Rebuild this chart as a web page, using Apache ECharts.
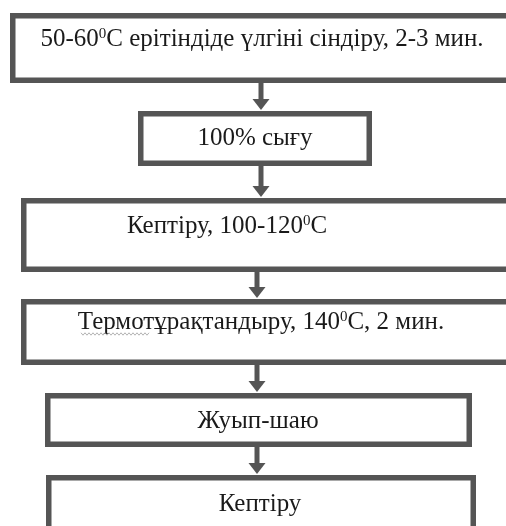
<!DOCTYPE html>
<html>
<head>
<meta charset="utf-8">
<script src="https://cdn.jsdelivr.net/npm/echarts@6/dist/echarts.min.js"></script>
<style>
html,body{margin:0;padding:0;background:#fff;}
#main{width:506px;height:526px;}
</style>
</head>
<body>
<div id="main"></div>
<script>
// Flowchart steps (text)
const steps = [
  '50-60⁰C ерітіндіде үлгіні сіндіру, 2-3 мин.',
  '100% сығу',
  'Кептіру, 100-120⁰C',
  'Термотұрақтандыру, 140⁰C, 2 мин.',
  'Жуып-шаю',
  'Кептіру'
];
// Box extents in the page's coordinate frame (x: 0..506, y: 0..526 downward)
const boxLeft   = [10, 138, 21, 21, 45, 46];
const boxRight  = [540, 372, 540, 540, 472, 476];
const boxTop    = [13, 111, 198, 299, 393, 475];
const boxBottom = [83, 166, 272, 365, 447, 545];
// Text anchor (centre) for each step
const textX = [262, 255, 227, 261, 258, 260];
const textY = [39, 138, 226, 322, 421, 504];
// Connector arrows: x position of each arrow (from step i to step i+1)
const arrowX = [261, 261, 257, 257, 257];

const BORDER = 5.5;
const LINE = '#555555';

const chart = echarts.init(document.getElementById('main'), null, {renderer: 'canvas'});

function toRich(s) {
  return s.replace(/⁰/g, '{s|0}');
}

const option = {
  backgroundColor: '#ffffff',
  animation: false,
  grid: {left: 0, right: 0, top: 0, bottom: 0},
  xAxis: {type: 'value', min: 0, max: 506, show: false},
  yAxis: {type: 'value', min: 0, max: 526, inverse: true, show: false},
  series: [
    {
      type: 'custom',
      clip: false,
      data: arrowX.map((x, i) => [x, boxBottom[i], boxTop[i + 1]]),
      z: 1,
      renderItem: function (params, api) {
        const a = api.coord([api.value(0), api.value(1)]);
        const b = api.coord([api.value(0), api.value(2)]);
        const head = 12, hw = 8.5;
        return {
          type: 'group',
          children: [
            {type: 'line', shape: {x1: a[0], y1: a[1], x2: b[0], y2: b[1] - head + 1},
             style: {stroke: LINE, lineWidth: 5}},
            {type: 'polygon', shape: {points: [[b[0] - hw, b[1] - head], [b[0] + hw, b[1] - head], [b[0], b[1] - 1]]},
             style: {fill: LINE}}
          ]
        };
      }
    },
    {
      type: 'custom',
      clip: false,
      z: 2,
      data: steps.map((s, i) => [i]),
      renderItem: function (params, api) {
        const i = api.value(0);
        const p0 = api.coord([boxLeft[i], boxTop[i]]);
        const p1 = api.coord([boxRight[i], boxBottom[i]]);
        const t = api.coord([textX[i], textY[i]]);
        const children = [
          {type: 'rect',
           shape: {x: p0[0] + BORDER / 2, y: p0[1] + BORDER / 2,
                   width: p1[0] - p0[0] - BORDER, height: p1[1] - p0[1] - BORDER},
           style: {fill: '#ffffff', stroke: LINE, lineWidth: BORDER}},
          {type: 'text',
           style: {
             x: t[0], y: t[1],
             text: toRich(steps[i]),
             textAlign: 'center', textVerticalAlign: 'middle',
             fontFamily: 'Liberation Serif', fontSize: 25, fill: '#1a1a1a',
             rich: {
               s: {fontFamily: 'Liberation Serif', fontSize: 15, fill: '#1a1a1a', verticalAlign: 'top', lineHeight: 15}
             }
           }}
        ];
        if (i === 3) {
          // spell-check wavy underline beneath the first word
          const w0 = api.coord([81, 334]);
          const w1 = api.coord([149, 334]);
          const pts = [];
          let k = 0;
          for (let x = w0[0]; x <= w1[0]; x += 2, k++) {
            pts.push([x, w0[1] + (k % 2 ? 1.2 : -1.2)]);
          }
          children.push({type: 'polyline', shape: {points: pts},
                         style: {stroke: '#a0a0a0', lineWidth: 0.8, fill: null}});
        }
        return {type: 'group', children: children};
      }
    }
  ]
};
chart.setOption(option);
</script>
</body>
</html>
